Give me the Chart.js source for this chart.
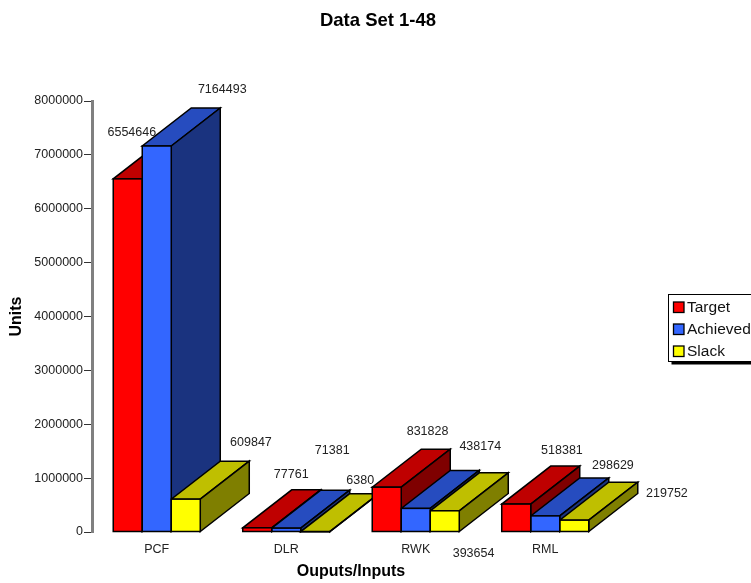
<!DOCTYPE html>
<html>
<head>
<meta charset="utf-8">
<style>
  html, body { margin: 0; padding: 0; background: #fff; overflow: hidden; }
  canvas { display: block; }
</style>
<script src="https://cdn.jsdelivr.net/npm/chart.js@4/dist/chart.umd.min.js"></script>
</head>
<body>
<canvas id="chart" width="751" height="583"></canvas>
<script>
const categories = ['PCF', 'DLR', 'RWK', 'RML'];
const target   = [6554646, 77761, 831828, 518381];
const achieved = [7164493, 71381, 438174, 298629];
const slack    = [609847, 6380, 393654, 219752];
const seriesNames = ['Target', 'Achieved', 'Slack'];

// Face colours per series: front, top, side
const faces = [
  { front: '#ff0000', top: '#bf0000', side: '#7f0000' },
  { front: '#3366ff', top: '#264cbf', side: '#1a337f' },
  { front: '#ffff00', top: '#bfbf00', side: '#7f7f00' }
];

// Value label placement relative to the top centre of each bar front
const labelOffsets = [
  [[4.1, -46.2], [34, -53], [40.8, -55.5], [45.7, -53.4]],
  [[65.5, -56.3], [46, -78], [64.5, -61.7], [67.7, -50.2]],
  [[65.2, -56.4], [45, -50.7], [28.8, 42.9], [92.7, -26.5]]
];

const DEPTH_X = 49;
const DEPTH_Y = -38;
const EDGE = 1.5;
const FONT = '"Liberation Sans", Arial, sans-serif';

function polygon(ctx, pts, fill) {
  ctx.beginPath();
  pts.forEach((p, i) => (i ? ctx.lineTo(p[0], p[1]) : ctx.moveTo(p[0], p[1])));
  ctx.closePath();
  ctx.fillStyle = fill;
  ctx.fill();
  ctx.stroke();
}

// Extrudes every bar backwards: top and side faces sit behind the fronts Chart.js paints
const extrusion = {
  id: 'extrusion',
  beforeDatasetsDraw(chart) {
    const ctx = chart.ctx;
    ctx.save();
    ctx.strokeStyle = '#000';
    ctx.lineWidth = EDGE;
    ctx.lineJoin = 'miter';
    categories.forEach((_, c) => {
      chart.data.datasets.forEach((_, d) => {
        const bar = chart.getDatasetMeta(d).data[c];
        const l = bar.x - bar.width / 2;
        const r = bar.x + bar.width / 2;
        const t = bar.y;
        const b = bar.base;
        polygon(ctx, [[l, t], [r, t], [r + DEPTH_X, t + DEPTH_Y], [l + DEPTH_X, t + DEPTH_Y]], faces[d].top);
        polygon(ctx, [[r, t], [r + DEPTH_X, t + DEPTH_Y], [r + DEPTH_X, b + DEPTH_Y], [r, b]], faces[d].side);
      });
    });
    ctx.restore();
  },
  afterDatasetsDraw(chart) {
    const ctx = chart.ctx;
    ctx.save();
    // Outline each front on its true edges, so very short bars keep their colour
    ctx.strokeStyle = '#000';
    ctx.lineWidth = EDGE;
    chart.data.datasets.forEach((ds, d) => {
      ds.data.forEach((v, c) => {
        const bar = chart.getDatasetMeta(d).data[c];
        ctx.strokeRect(bar.x - bar.width / 2, bar.y, bar.width, bar.base - bar.y);
      });
    });
    ctx.font = '12.5px ' + FONT;
    ctx.fillStyle = '#222';
    ctx.textAlign = 'center';
    ctx.textBaseline = 'middle';
    chart.data.datasets.forEach((ds, d) => {
      ds.data.forEach((v, c) => {
        const bar = chart.getDatasetMeta(d).data[c];
        const off = labelOffsets[d][c];
        ctx.fillText(String(v), bar.x + off[0], bar.y + off[1]);
      });
    });
    ctx.restore();
  }
};

// Boxed key on the right, running off the edge of the canvas
const sideKey = {
  id: 'sideKey',
  afterDraw(chart) {
    const ctx = chart.ctx;
    const left = 668.5, top = 294.5, w = 100, h = 67;
    ctx.save();
    ctx.fillStyle = '#000';
    ctx.fillRect(left + 3, top + 3, w, h);
    ctx.fillStyle = '#fff';
    ctx.strokeStyle = '#000';
    ctx.lineWidth = 1;
    ctx.fillRect(left, top, w, h);
    ctx.strokeRect(left, top, w, h);
    ctx.font = '15.5px ' + FONT;
    ctx.textBaseline = 'middle';
    ctx.textAlign = 'left';
    ctx.lineWidth = 1.3;
    chart.data.datasets.forEach((ds, d) => {
      const y = 302 + d * 22;
      ctx.fillStyle = ds.backgroundColor;
      ctx.fillRect(673.5, y, 10.5, 10.5);
      ctx.strokeRect(673.5, y, 10.5, 10.5);
      ctx.fillStyle = '#111';
      ctx.fillText(ds.label, 687, y + 5.5);
    });
    ctx.restore();
  }
};

// The heading is centred a little right of the page middle
const titleShift = {
  id: 'titleShift',
  afterLayout(chart) {
    chart.titleBlock.left = 5;
    chart.titleBlock.right = 751;
  }
};

new Chart(document.getElementById('chart'), {
  type: 'bar',
  plugins: [extrusion, sideKey, titleShift],
  data: {
    labels: categories,
    datasets: [target, achieved, slack].map((values, i) => ({
      label: seriesNames[i],
      data: values,
      backgroundColor: faces[i].front,
      borderWidth: 0,
      barPercentage: 1,
      categoryPercentage: 0.672
    }))
  },
  options: {
    responsive: false,
    animation: false,
    devicePixelRatio: 1,
    layout: { padding: { left: 0, right: 141, top: 0, bottom: 0 } },
    plugins: {
      legend: { display: false },
      tooltip: { enabled: false },
      title: {
        display: true,
        text: 'Data Set 1-48',
        color: '#000',
        font: { family: FONT, size: 18.5, weight: 'bold' },
        padding: { top: 10, bottom: 68.8 }
      }
    },
    scales: {
      x: {
        afterFit(scale) { scale.height = 51; },
        grid: { display: false, drawTicks: false },
        border: { display: false },
        ticks: {
          color: '#222',
          padding: 10,
          maxRotation: 0,
          font: { family: FONT, size: 12.5 }
        },
        title: {
          display: true,
          text: 'Ouputs/Inputs',
          color: '#000',
          padding: { top: 0, bottom: 2 },
          font: { family: FONT, size: 16, weight: 'bold' }
        }
      },
      y: {
        min: 0,
        max: 8000000,
        afterFit(scale) { scale.width = 92; },
        border: { display: true, color: '#808080', width: 3 },
        grid: { drawOnChartArea: false, drawTicks: true, tickLength: 8, tickColor: '#333', tickWidth: 1 },
        ticks: {
          stepSize: 1000000,
          color: '#222',
          padding: 1,
          callback: value => String(value),
          font: { family: FONT, size: 12.5 }
        },
        title: {
          display: true,
          text: 'Units',
          color: '#000',
          padding: { top: 7, bottom: 0 },
          font: { family: FONT, size: 16, weight: 'bold' }
        }
      }
    }
  }
});
</script>
</body>
</html>
